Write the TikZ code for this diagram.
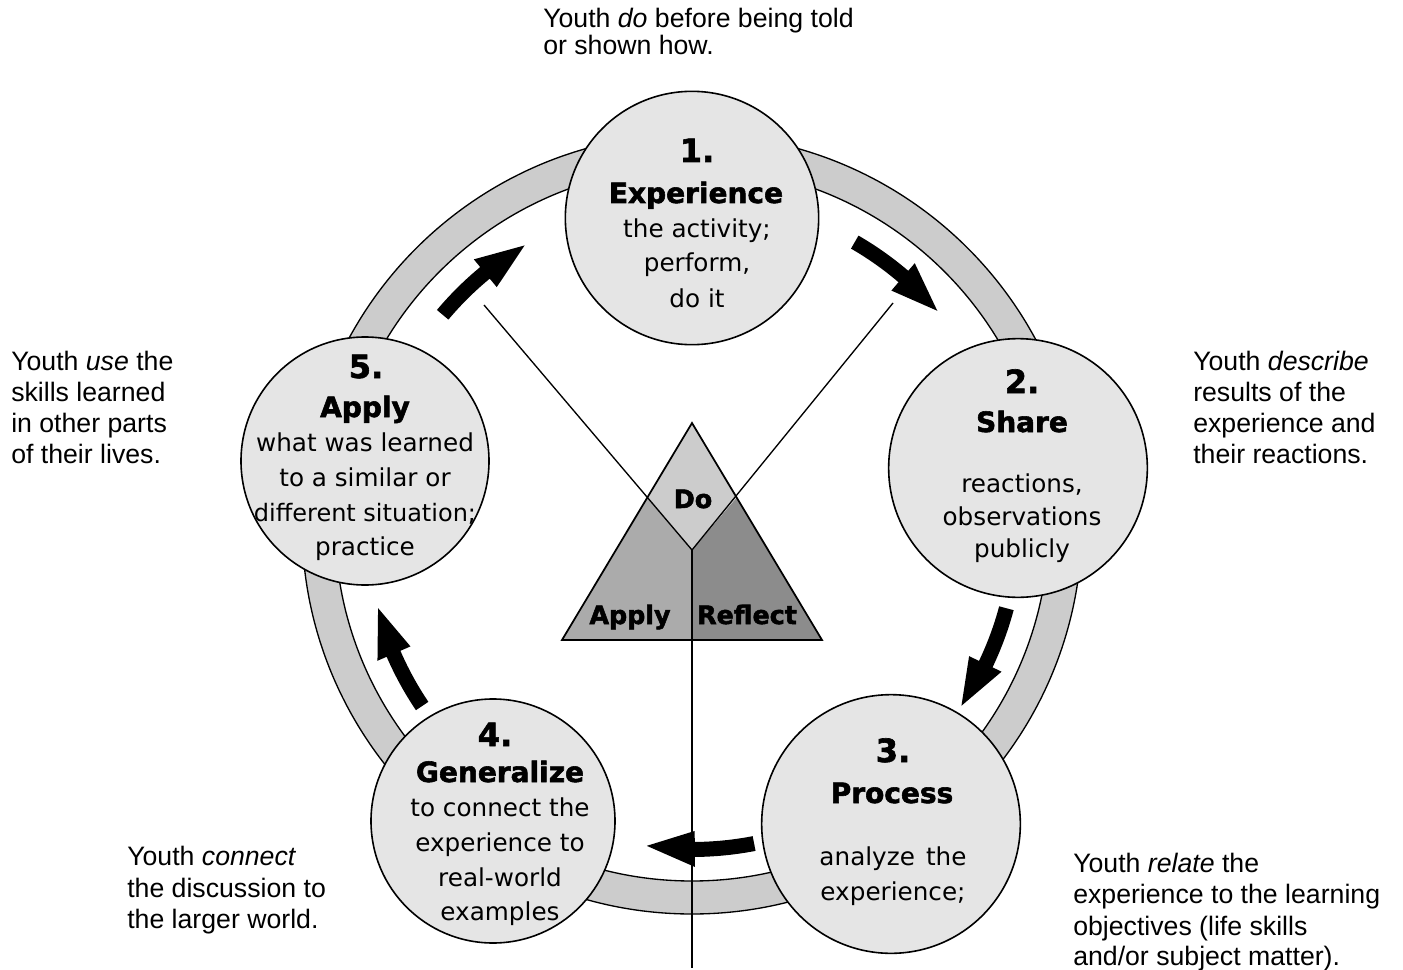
\documentclass[tikz,border=0pt]{standalone}
\usepackage{fontspec}
\setmainfont{Liberation Sans}
\newfontfamily\cf{DejaVu Sans}
\newfontfamily\cfh[FakeBold=2]{DejaVu Sans Bold}
\newcommand\cycarrow[2]{%
 \pgfmathsetmacro\ah{#2+8.5}%
 \fill ({692+332*cos(#1)},{524-332*sin(#1)}) -- plot[domain=#1:\ah,samples=12] ({692+333*cos(\x)},{524-333*sin(\x)}) -- ({692+343*cos(\ah)},{524-343*sin(\ah)}) -- ({692+325*cos(#2)},{524-325*sin(#2)}) -- ({692+307*cos(\ah)},{524-307*sin(\ah)}) -- plot[domain=\ah:#1,samples=12] ({692+318*cos(\x)},{524-318*sin(\x)}) -- cycle;}
\begin{document}
\begin{tikzpicture}[x=0.75pt,y=-0.75pt,
  stage/.style={circle,draw,line width=1.2pt,fill=black!10,inner sep=0pt,minimum size=194pt},
  num/.style={anchor=base,inner sep=0pt,font=\cfh\fontsize{24}{28}\selectfont},
  ttl/.style={anchor=base,inner sep=0pt,font=\cfh\fontsize{21}{25}\selectfont},
  bdy/.style={anchor=base,inner sep=0pt,font=\cf\fontsize{18.5}{26}\selectfont},
  lbl/.style={anchor=base west,inner sep=0pt,font=\fontsize{20}{23}\selectfont},
  tri/.style={anchor=base,inner sep=0pt,font=\cfh\fontsize{19}{22}\selectfont},
  thin line/.style={line width=1pt}]
\useasboundingbox (0,0) rectangle (1403,970);
% ring
\fill[black!20,even odd rule] (692,524) circle[radius=390] (692,524) circle[radius=357];
\draw[thin line] (692,524) circle[radius=390] (692,524) circle[radius=357];
% triangle
\coordinate (ta) at (692,423);
\coordinate (tl) at (562,640);
\coordinate (tr) at (822,640);
\coordinate (dl) at (647,497);
\coordinate (dr) at (737,497);
\coordinate (db) at (692,550);
\coordinate (bm) at (692,640);
\coordinate (la) at (484,305);
\coordinate (ra) at (893,303);
\coordinate (vb) at (692,968);
\fill[black!33] (dl) -- (db) -- (bm) -- (tl) -- cycle;
\fill[black!45] (dr) -- (db) -- (bm) -- (tr) -- cycle;
\fill[black!20] (ta) -- (dr) -- (db) -- (dl) -- cycle;
\draw[line width=1.3pt,line join=miter] (ta) -- (tr) -- (tl) -- cycle;
\draw[thin line] (la) -- (db) -- (ra);
\draw[thin line] (db) -- (vb);
\node[tri] (tdo) at (693,508) {Do};
\node[tri] (tap) at (630,624) {Apply};
\node[tri] (tre) at (747,624) {Reflect};
% stages
\node[stage,minimum size=190pt] (c1) at (692,218) {};
\node[stage] (c2) at (1018,468) {};
\node[stage] (c3) at (891,824) {};
\node[stage,minimum size=183pt] (c4) at (493,821) {};
\node[stage,minimum size=186pt] (c5) at (365,461) {};
% arrows
\cycarrow{140}{121}
\cycarrow{60}{41}
\cycarrow{-15}{-34}
\cycarrow{-79}{-98}
\cycarrow{214}{195}
% stage texts
\node[num] (n1) at (697,162) {1.};
\node[ttl] (t1) at (696,203) {Experience};
\node[bdy] (b1a) at (697,238) {the activity;};
\node[bdy] (b1b) at (697,272) {perform,};
\node[bdy] (b1c) at (697,307) {do it};
\node[num] (n2) at (1022,393) {2.};
\node[ttl] (t2) at (1022,432) {Share};
\node[bdy] (b2a) at (1022,492) {reactions,};
\node[bdy] (b2b) at (1022,525) {observations};
\node[bdy] (b2c) at (1022,557) {publicly};
\node[num] (n3) at (893,762) {3.};
\node[ttl] (t3) at (892,803) {Process};
\node[bdy] (b3a) at (893,865) {analyze\hspace{0.45em}the};
\node[bdy] (b3b) at (893,900) {experience;};
\node[num] (n4) at (495,746) {4.};
\node[ttl] (t4) at (500,782) {Generalize};
\node[bdy] (b4a) at (500,816) {to connect the};
\node[bdy] (b4b) at (500,851) {experience to};
\node[bdy] (b4c) at (500,886) {real-world};
\node[bdy] (b4d) at (500,920) {examples};
\node[num] (n5) at (366,378) {5.};
\node[ttl] (t5) at (365,417) {Apply};
\node[bdy] (b5a) at (365,451) {what was learned};
\node[bdy] (b5b) at (365,486) {to a similar or};
\node[bdy,font=\cf\fontsize{18}{26}\selectfont] (b5c) at (365,521) {different situation;};
\node[bdy] (b5d) at (365,555) {practice};
% outer labels
\node[lbl] (o1a) at (543,28) {Youth \textit{do} before being told};
\node[lbl] (o1b) at (543,55) {or shown how.};
\node[lbl] (o5a) at (11,370) {Youth \textit{use} the};
\node[lbl] (o5b) at (11,401) {skills learned};
\node[lbl] (o5c) at (11,432) {in other parts};
\node[lbl] (o5d) at (11,463) {of their lives.};
\node[lbl] (o2a) at (1193,370) {Youth \textit{describe}};
\node[lbl] (o2b) at (1193,401) {results of the};
\node[lbl] (o2c) at (1193,432) {experience and};
\node[lbl] (o2d) at (1193,463) {their reactions.};
\node[lbl] (o4a) at (127,865) {Youth \textit{connect}};
\node[lbl] (o4b) at (127,897) {the discussion to};
\node[lbl] (o4c) at (127,928) {the larger world.};
\node[lbl] (o3a) at (1073,872) {Youth \textit{relate} the};
\node[lbl] (o3b) at (1073,903) {experience to the learning};
\node[lbl] (o3c) at (1073,935) {objectives (life skills};
\node[lbl] (o3d) at (1073,965) {and/or subject matter).};
\end{tikzpicture}
\end{document}
